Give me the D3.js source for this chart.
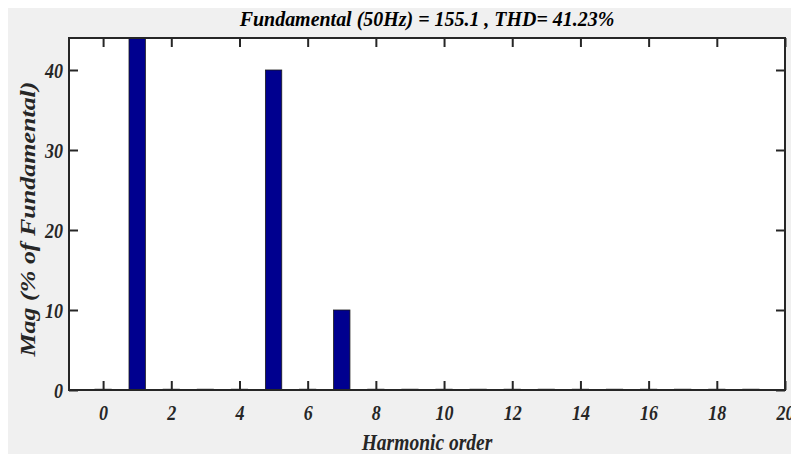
<!DOCTYPE html>
<html>
<head>
<meta charset="utf-8">
<script src="https://cdn.jsdelivr.net/npm/d3@7"></script>
<style>
  body { margin: 0; background: #fff; }
  text { font-family: "Liberation Serif", "Times New Roman", serif; font-weight: bold; font-style: italic; fill: #262626; }
</style>
</head>
<body>
<div id="chart"></div>
<script>
// harmonic spectrum (% of fundamental)
var harmonics = [0, 1, 2, 3, 4, 5, 6, 7, 8, 9, 10, 11, 12, 13, 14, 15, 16, 17, 18, 19];
var magnitudes = [0.1, 100, 0.1, 0.1, 0.1, 40, 0.1, 10, 0.1, 0.1, 0.1, 0.1, 0.1, 0.1, 0.1, 0.1, 0.1, 0.1, 0.1, 0.1];
var xTicks = [0, 2, 4, 6, 8, 10, 12, 14, 16, 18, 20];
var yTicks = [0, 10, 20, 30, 40];
var titleText = "Fundamental (50Hz) = 155.1 , THD= 41.23%";

var width = 791;
var height = 454;

var margin = {
    top: 38,
    right: 6,
    bottom: 64,
    left: 69
};

// the source picture is narrow-looking: squeeze glyphs horizontally
function squeeze(sel, k) {
    sel.each(function() {
        var l = this.getComputedTextLength();
        d3.select(this)
            .attr("textLength", l * k)
            .attr("lengthAdjust", "spacingAndGlyphs");
    });
}

var svg = d3.select("#chart")
    .append("svg")
    .attr("width", width)
    .attr("height", height);

// grey figure background
svg.append("rect")
    .attr("x", 8)
    .attr("y", 8)
    .attr("width", width - 8)
    .attr("height", height - 8)
    .attr("fill", "#f0f0f0");

var w = width - margin.left - margin.right;
var h = height - margin.top - margin.bottom;

var g = svg.append("g")
    .attr("transform", "translate(" + margin.left + "," + margin.top + ")");

var x = d3.scaleLinear().domain([-1, 20]).range([0, w]);
var y = d3.scaleLinear().domain([0, 44]).range([h, 0]);

g.append("rect")
    .attr("width", w)
    .attr("height", h)
    .attr("fill", "#fff");

g.append("clipPath")
    .attr("id", "clip")
    .append("rect")
    .attr("width", w)
    .attr("height", h);

var barW = x(0.48) - x(0);

g.append("g")
    .attr("clip-path", "url(#clip)")
    .selectAll("rect.bar")
    .data(harmonics)
    .enter()
    .append("rect")
    .attr("class", "bar")
    .attr("x", function(d) { return x(d) - barW / 2; })
    .attr("y", function(d, i) { return y(magnitudes[i]); })
    .attr("width", barW)
    .attr("height", function(d, i) { return h - y(magnitudes[i]); })
    .attr("fill", "#00008f")
    .attr("stroke", "#1a1a1a")
    .attr("stroke-width", 0.8);

// axes, ticks pointing inward on all four sides
var tickLen = 9;

var xAxis = g.append("g")
    .attr("transform", "translate(0," + h + ")")
    .call(d3.axisBottom(x).tickValues(xTicks).tickSize(-tickLen).tickFormat(d3.format("d")));

var xTop = g.append("g")
    .call(d3.axisTop(x).tickValues(xTicks).tickSize(-tickLen).tickFormat(""));

var yAxis = g.append("g")
    .call(d3.axisLeft(y).tickValues(yTicks).tickSize(-tickLen).tickFormat(d3.format("d")));

var yRight = g.append("g")
    .attr("transform", "translate(" + w + ",0)")
    .call(d3.axisRight(y).tickValues(yTicks).tickSize(-tickLen).tickFormat(""));

[xAxis, xTop, yAxis, yRight].forEach(function(a) {
    a.select(".domain").remove();
    a.selectAll(".tick line").attr("stroke", "#262626").attr("stroke-width", 2);
    a.selectAll(".tick text")
        .attr("font-family", null)
        .attr("font-size", null)
        .style("font-size", "22px")
        .attr("fill", "#262626");
});

xAxis.selectAll(".tick text")
    .attr("y", 30)
    .attr("dy", 0)
    .call(squeeze, 0.82);

yAxis.selectAll(".tick text")
    .attr("x", -6)
    .attr("dy", "0.34em")
    .call(squeeze, 0.82);

g.append("rect")
    .attr("width", w)
    .attr("height", h)
    .attr("fill", "none")
    .attr("stroke", "#262626")
    .attr("stroke-width", 2);

svg.append("text")
    .attr("x", margin.left + w / 2)
    .attr("y", 26)
    .attr("text-anchor", "middle")
    .style("font-size", "21px")
    .style("fill", "#000")
    .text(titleText)
    .call(squeeze, 0.95);

svg.append("text")
    .attr("x", margin.left + w / 2)
    .attr("y", 450)
    .attr("text-anchor", "middle")
    .style("font-size", "23.5px")
    .text("Harmonic order")
    .call(squeeze, 0.83);

svg.append("text")
    .attr("transform", "translate(35,219) scale(0.83,1) rotate(-90)")
    .attr("text-anchor", "middle")
    .style("font-size", "26px")
    .text("Mag (% of Fundamental)");
</script>
</body>
</html>
